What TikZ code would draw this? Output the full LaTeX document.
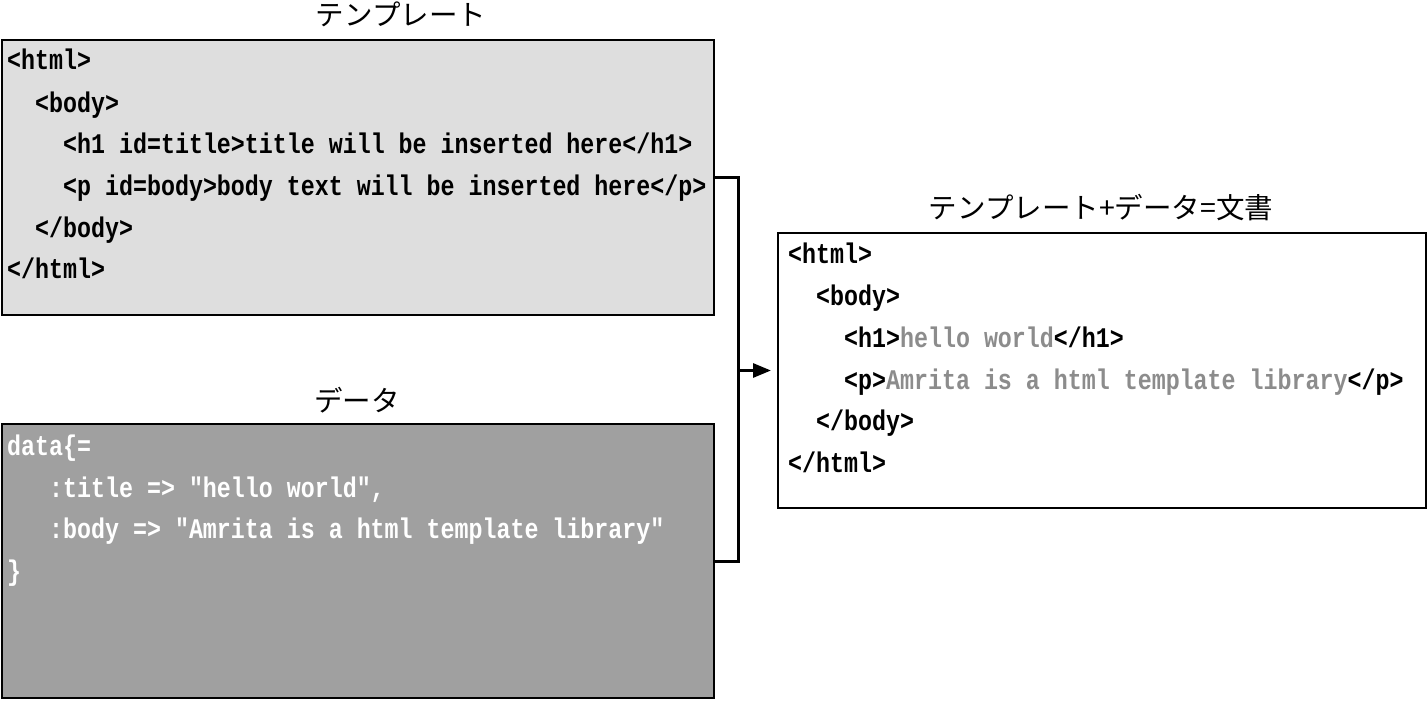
\documentclass[tikz,border=0pt]{standalone}
\usepackage{fontspec}
\usepackage{graphicx}
\usetikzlibrary{arrows.meta}
\newfontfamily\codefont{Liberation Mono}
\newfontfamily\jpfont{Noto Sans CJK JP}
\definecolor{tplfill}{HTML}{DEDEDE}
\definecolor{datfill}{HTML}{A0A0A0}
\definecolor{insgray}{HTML}{8C8C8C}
\newcommand\tallcode[1]{\scalebox{1}[1.22]{#1}}
\tikzset{
  panel/.style={draw=black, line width=2pt, anchor=north west, inner sep=0pt},
  code/.style={anchor=base west, inner sep=0pt, font=\codefont\bfseries\fontsize{23.3}{28}\selectfont},
  title/.style={anchor=base, inner sep=0pt, font=\jpfont\fontsize{28.5}{32}\selectfont},
  conn/.style={line width=3pt},
}
\begin{document}
\begin{tikzpicture}[x=1pt,y=-1pt]
\useasboundingbox (0,0) rectangle (1428,701);
% panels
\node[panel, fill=tplfill, minimum width=712pt, minimum height=275pt] (tpl) at (1,39) {};
\node[panel, fill=datfill, minimum width=712pt, minimum height=274pt] (dat) at (1,423) {};
\node[panel, fill=white, minimum width=648pt, minimum height=275pt] (res) at (777,232) {};
% titles
\node[title] (ttpl) at (401,26) {テンプレート};
\node[title] (tdat) at (357,411) {データ};
\node[title] (tres) at (1101,218) {テンプレート+データ=文書};
% template code
\node[code] (t1) at (7,70) {\tallcode{<html>}};
\node[code] (t2) at (35,112) {\tallcode{<body>}};
\node[code] (t3) at (63,153) {\tallcode{<h1 id=title>title will be inserted here</h1>}};
\node[code] (t4) at (63,195) {\tallcode{<p id=body>body text will be inserted here</p>}};
\node[code] (t5) at (35,237) {\tallcode{</body>}};
\node[code] (t6) at (7,278) {\tallcode{</html>}};
% data code
\node[code, text=white] (d1) at (7,455) {\tallcode{data\{=}};
\node[code, text=white] (d2) at (49,497) {\tallcode{:title => "hello world",}};
\node[code, text=white] (d3) at (49,538) {\tallcode{:body => "Amrita is a html template library"}};
\node[code, text=white] (d4) at (7,580) {\tallcode{\}}};
% result code
\node[code] (r1) at (788,263) {\tallcode{<html>}};
\node[code] (r2) at (816,305) {\tallcode{<body>}};
\node[code] (r3) at (844,347) {\tallcode{<h1>\textcolor{insgray}{hello world}</h1>}};
\node[code] (r4) at (844,389) {\tallcode{<p>\textcolor{insgray}{Amrita is a html template library}</p>}};
\node[code] (r5) at (816,430) {\tallcode{</body>}};
\node[code] (r6) at (788,472) {\tallcode{</html>}};
% connectors
\coordinate (jx) at (738,369);
\draw[conn] (tpl.east) -| (jx) |- (dat.east);
\draw[conn, -{Triangle[length=18pt,width=14pt]}, shorten >=6pt] (jx |- res.west) -- (res.west);
\end{tikzpicture}
\end{document}
